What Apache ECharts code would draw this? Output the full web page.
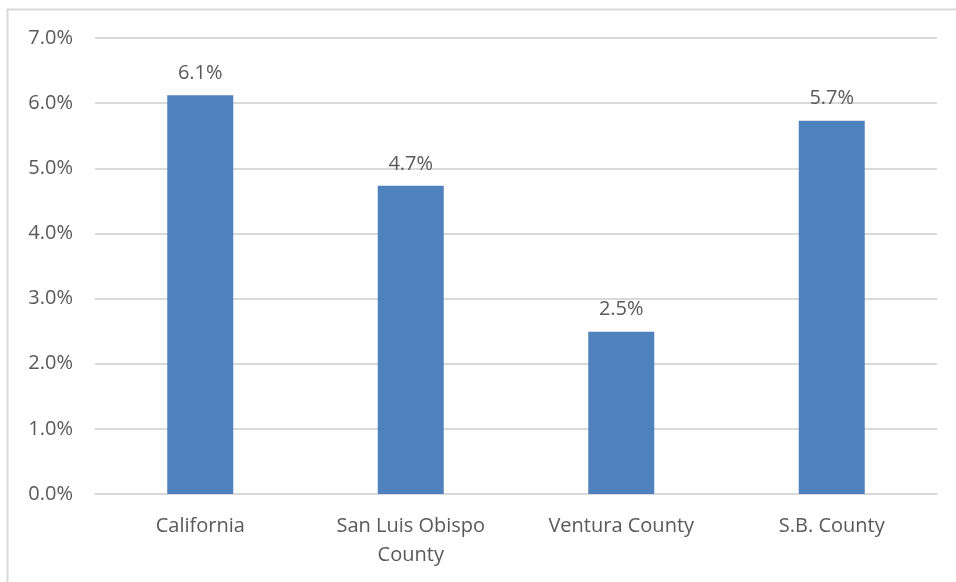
<!DOCTYPE html>
<html><head><meta charset="utf-8">
<script src="https://cdn.jsdelivr.net/npm/echarts@6/dist/echarts.min.js"></script>
<style>html,body{margin:0;padding:0;background:#fff}#c{width:956px;height:582px}</style>
</head><body><div id="c"></div>
<script>
const categories = ['California', 'San Luis Obispo\nCounty', 'Ventura County', 'S.B. County'];
const values = [6.12, 4.73, 2.49, 5.73];
const yTicks = { min: 0, max: 7, interval: 1 };

const chart = echarts.init(document.getElementById('c'));
const font = '"Open Sans", "Noto Sans", sans-serif';
chart.setOption({
  animation: false,
  graphic: [{ type: 'rect', shape: { x: 7.5, y: 9.5, width: 1000, height: 1000 }, style: { fill: 'none', stroke: '#d9d9d9', lineWidth: 2 }, silent: true }],
  grid: { left: 95, right: 19, top: 38, bottom: 88, containLabel: false },
  xAxis: {
    type: 'category', data: categories,
    axisLine: { show: true, lineStyle: { color: '#d9d9d9', width: 2 } },
    axisTick: { show: false },
    axisLabel: { color: '#595959', fontSize: 20, fontFamily: font, margin: 18, lineHeight: 29 }
  },
  yAxis: {
    type: 'value', min: yTicks.min, max: yTicks.max, interval: yTicks.interval,
    axisLine: { show: false }, axisTick: { show: false },
    splitLine: { lineStyle: { color: '#d9d9d9', width: 2 } },
    axisLabel: { color: '#595959', fontSize: 20, fontFamily: font, margin: 22, formatter: v => v.toFixed(1) + '%' }
  },
  series: [{
    type: 'bar', data: values, barWidth: 66,
    itemStyle: { color: '#4f81bd' },
    label: { show: true, position: 'top', distance: 12, color: '#595959', fontSize: 20, fontFamily: font, formatter: p => p.value.toFixed(1) + '%' }
  }]
});
</script></body></html>
